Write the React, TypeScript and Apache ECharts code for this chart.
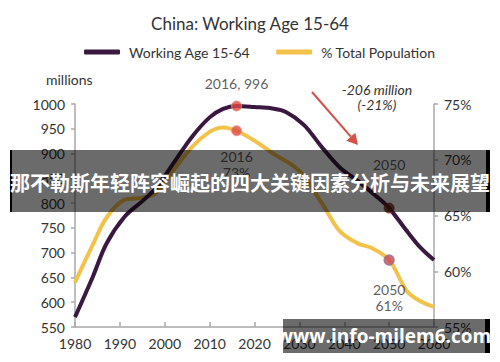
import React, { useEffect, useRef } from "react";
import * as echarts from "echarts";

const titleText = "China: Working Age 15-64";
const seriesNames = ["Working Age 15-64", "% Total Population"];

// Working age population 15-64 (millions), [year, value]
const workingAge: [number, number][] = [
  [1980, 570], [1984, 652], [1987, 718], [1991, 772], [1995, 804], [1998, 830],
  [2002, 881], [2006, 933], [2010, 973], [2013, 990], [2016, 996], [2020, 994],
  [2024, 991], [2027, 984], [2031, 958], [2035, 913], [2039, 872], [2043, 845],
  [2047, 815], [2050, 790], [2054, 743], [2057, 710], [2060, 685],
];

// Share of total population (%), [year, value]
const sharePct: [number, number][] = [
  [1980, 59.0], [1984, 62.4], [1987, 64.8], [1991, 66.4], [1995, 66.6], [1998, 67.0],
  [2002, 69.1], [2006, 71.1], [2010, 72.5], [2013, 72.9], [2016, 72.6], [2020, 71.7],
  [2024, 70.6], [2030, 69.0], [2035, 66.1], [2039, 63.6], [2043, 62.5], [2046, 62.1],
  [2050, 61.0], [2054, 58.2], [2057, 57.3], [2060, 56.8],
];

const workingMarkers: [number, number][] = [[2016, 996], [2050, 790]];
const workingMarkerLabels = ["2016, 996", "2050"];
const shareMarkers: [number, number][] = [[2016, 72.6], [2050, 61.0]];
const shareMarkerLabels = ["2016\n73%", "2050\n61%"];

const changeNote = ["-206 million", "(-21%)"];
const leftUnit = "millions";
const bannerText = "那不勒斯年轻阵容崛起的四大关键因素分析与未来展望";
const watermarkText = "www.info-milem6.com";

const FONT = "Lato, 'Noto Sans', sans-serif";
const PURPLE = "#3a1840";
const YELLOW = "#f3c24a";
const AXIS = "#a8a8a8";
const TEXT = "#333333";

export default function App() {
  const ref = useRef<HTMLDivElement>(null);
  useEffect(() => {
    if (!ref.current) return;
    const chart = echarts.init(ref.current, undefined, { renderer: "svg" });

    // arrow geometry (annotation)
    const ax1 = 312, ay1 = 92, ax2 = 358, ay2 = 145;
    const dx = ax2 - ax1, dy = ay2 - ay1;
    const len = Math.sqrt(dx * dx + dy * dy);
    const ux = dx / len, uy = dy / len;
    const hl = 11, hw = 6;
    const bx = ax2 - ux * hl, by = ay2 - uy * hl;
    const arrowHead = [
      [ax2, ay2],
      [bx - uy * hw, by + ux * hw],
      [bx + uy * hw, by - ux * hw],
    ];

    chart.setOption({
      animation: false,
      backgroundColor: "#ffffff",
      textStyle: { fontFamily: FONT },
      title: {
        text: titleText,
        left: "center",
        top: 10,
        textStyle: { fontFamily: FONT, fontSize: 17, fontWeight: "normal", color: TEXT },
      },
      legend: {
        top: 40,
        left: 79,
        itemWidth: 36,
        itemHeight: 5,
        itemGap: 26,
        icon: "roundRect",
        data: seriesNames,
        textStyle: { fontFamily: FONT, fontSize: 14, color: TEXT, padding: [0, 0, 0, 4] },
      },
      grid: { left: 75, right: 66, top: 104, bottom: 35, containLabel: false },
      xAxis: {
        type: "value",
        min: 1980,
        max: 2060,
        interval: 10,
        axisLine: { show: true, lineStyle: { color: AXIS, width: 1.5 } },
        axisTick: { show: true, inside: true, length: 5, lineStyle: { color: AXIS, width: 1.5 } },
        axisLabel: {
          formatter: (v: number) => String(v),
          fontFamily: FONT,
          fontSize: 14,
          color: TEXT,
          margin: 9,
        },
        splitLine: { show: false },
      },
      yAxis: [
        {
          type: "value",
          min: 550,
          max: 1000,
          interval: 50,
          axisLine: { show: true, lineStyle: { color: AXIS, width: 1.5 } },
          axisTick: { show: true, length: 4, lineStyle: { color: AXIS, width: 1.5 } },
          axisLabel: {
            formatter: (v: number) => String(v),
            fontFamily: FONT,
            fontSize: 14,
            color: TEXT,
            margin: 10,
          },
          splitLine: { show: false },
        },
        {
          type: "value",
          min: 55,
          max: 75,
          interval: 5,
          position: "right",
          axisLine: { show: true, lineStyle: { color: AXIS, width: 1.5 } },
          axisTick: { show: true, length: 4, lineStyle: { color: AXIS, width: 1.5 } },
          axisLabel: { formatter: "{value}%", fontFamily: FONT, fontSize: 14, color: TEXT, margin: 10 },
          splitLine: { show: false },
        },
      ],
      series: [
        {
          name: seriesNames[0],
          type: "line",
          yAxisIndex: 0,
          data: workingAge,
          smooth: 0.35,
          showSymbol: false,
          symbol: "none",
          itemStyle: { color: PURPLE },
          lineStyle: { color: PURPLE, width: 4 },
          z: 3,
        },
        {
          name: seriesNames[1],
          type: "line",
          yAxisIndex: 1,
          data: sharePct,
          smooth: 0.35,
          showSymbol: false,
          symbol: "none",
          itemStyle: { color: YELLOW },
          lineStyle: { color: YELLOW, width: 4 },
          z: 2,
        },
        {
          type: "scatter",
          yAxisIndex: 0,
          symbolSize: 10,
          z: 5,
          data: workingMarkers.map((p, i) => ({
            value: p,
            itemStyle: i === 0
              ? { color: "#e04a44", borderColor: "#f08a85", borderWidth: 1 }
              : { color: "#6a2418", borderColor: "#8a3a2a", borderWidth: 1 },
            label: {
              show: true,
              formatter: workingMarkerLabels[i],
              position: "top",
              distance: i === 0 ? 10 : 31,
              fontFamily: FONT,
              fontSize: 14,
              color: TEXT,
            },
          })),
        },
        {
          type: "scatter",
          yAxisIndex: 1,
          symbolSize: 10,
          z: 5,
          data: shareMarkers.map((p, i) => ({
            value: p,
            itemStyle: i === 0
              ? { color: "#e04a44", borderColor: "#f08a85", borderWidth: 1 }
              : { color: "#c44a5a", borderColor: "#9a7090", borderWidth: 1.5 },
            label: {
              show: true,
              formatter: shareMarkerLabels[i],
              position: "bottom",
              distance: i === 0 ? 12 : 16,
              lineHeight: 16,
              fontFamily: FONT,
              fontSize: 14,
              color: TEXT,
            },
          })),
        },
      ],
      graphic: [
        {
          type: "text",
          left: 46,
          top: 72,
          style: { text: leftUnit, fontFamily: FONT, fontSize: 14, fill: TEXT },
        },
        {
          type: "text",
          x: 377,
          y: 89,
          style: {
            text: changeNote[0],
            fontFamily: FONT,
            fontStyle: "italic",
            fontSize: 14,
            fill: TEXT,
            align: "center",
            verticalAlign: "middle",
          },
        },
        {
          type: "text",
          x: 377,
          y: 104,
          style: {
            text: changeNote[1],
            fontFamily: FONT,
            fontStyle: "italic",
            fontSize: 14,
            fill: TEXT,
            align: "center",
            verticalAlign: "middle",
          },
        },
        {
          type: "line",
          shape: { x1: ax1, y1: ay1, x2: bx, y2: by },
          style: { stroke: "#d4504a", lineWidth: 2 },
        },
        {
          type: "polygon",
          shape: { points: arrowHead },
          style: { fill: "#d4504a" },
        },
        // banner overlay
        {
          type: "rect",
          shape: { x: 10, y: 150, width: 480, height: 62 },
          style: { fill: "rgba(0,0,0,0.58)" },
          z: 100,
        },
        {
          type: "rect",
          shape: { x: 10, y: 150, width: 2, height: 62 },
          style: { fill: "#000" },
          z: 101,
        },
        {
          type: "rect",
          shape: { x: 486, y: 150, width: 4, height: 62 },
          style: { fill: "#000" },
          z: 101,
        },
        {
          type: "text",
          x: 250,
          y: 182,
          z: 102,
          style: {
            text: bannerText,
            fontFamily: "'Noto Sans CJK SC', sans-serif",
            fontWeight: "bold",
            fontSize: 20,
            fill: "#ffffff",
            align: "center",
            verticalAlign: "middle",
          },
        },
        // watermark
        {
          type: "rect",
          shape: { x: 283, y: 319, width: 203, height: 34 },
          style: { fill: "rgba(0,0,0,0.58)" },
          z: 100,
        },
        {
          type: "rect",
          shape: { x: 485, y: 319, width: 5, height: 34 },
          style: { fill: "#000" },
          z: 101,
        },
        {
          type: "text",
          x: 384,
          y: 336,
          z: 102,
          style: {
            text: watermarkText,
            fontFamily: "'Open Sans', 'Noto Sans', sans-serif",
            fontWeight: "bold",
            fontSize: 19,
            fill: "#ffffff",
            align: "center",
            verticalAlign: "middle",
          },
        },
      ],
    });
    return () => chart.dispose();
  }, []);

  return (
    <div
      ref={ref}
      style={{ position: "fixed", left: 0, top: 0, width: 500, height: 362 }}
    />
  );
}
